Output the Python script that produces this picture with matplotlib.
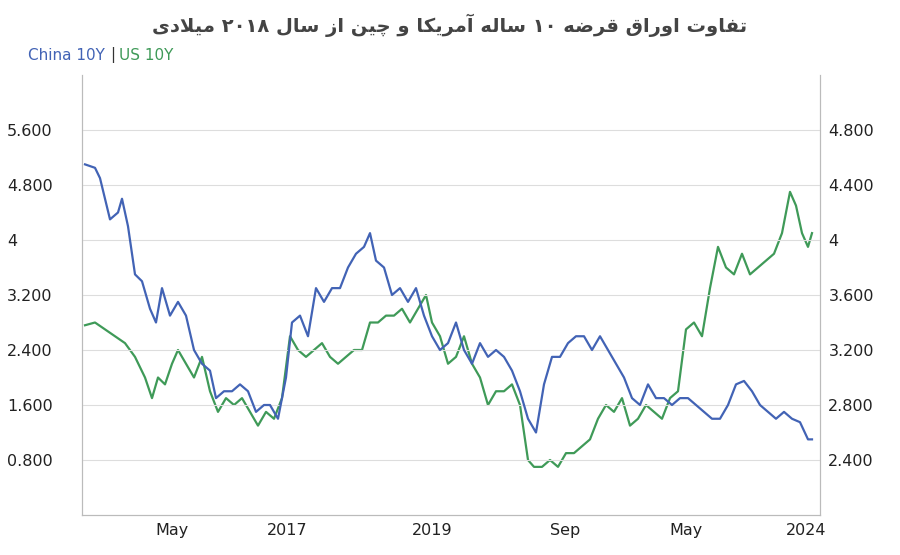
import re
import matplotlib
matplotlib.use("Agg")
import matplotlib.pyplot as plt

# --- minimal Persian shaping ---
FORMS = {
 'ا':('\uFE8D','\uFE8E',None,None),'آ':('\uFE81','\uFE82',None,None),
 'ت':('\uFE95','\uFE96','\uFE97','\uFE98'),'ف':('\uFED1','\uFED2','\uFED3','\uFED4'),
 'و':('\uFEED','\uFEEE',None,None),'ر':('\uFEAD','\uFEAE',None,None),
 'ق':('\uFED5','\uFED6','\uFED7','\uFED8'),'ض':('\uFEBD','\uFEBE','\uFEBF','\uFEC0'),
 'ه':('\uFEE9','\uFEEA','\uFEEB','\uFEEC'),'س':('\uFEB1','\uFEB2','\uFEB3','\uFEB4'),
 'ل':('\uFEDD','\uFEDE','\uFEDF','\uFEE0'),'م':('\uFEE1','\uFEE2','\uFEE3','\uFEE4'),
 'ن':('\uFEE5','\uFEE6','\uFEE7','\uFEE8'),'ز':('\uFEAF','\uFEB0',None,None),
 'د':('\uFEA9','\uFEAA',None,None),'ی':('\uFBFC','\uFBFD','\uFBFE','\uFBFF'),
 'ک':('\uFB8E','\uFB8F','\uFB90','\uFB91'),'چ':('\uFB7A','\uFB7B','\uFB7C','\uFB7D'),
}
def shape(s):
    s = s.replace('لا', '\uE000')
    out = []
    chars = list(s)
    def joins_next(c):
        if c == '\uE000': return False
        return c in FORMS and FORMS[c][2] is not None
    def is_letter(c):
        return c in FORMS or c == '\uE000'
    for i, c in enumerate(chars):
        prev = chars[i-1] if i > 0 else ''
        nxt = chars[i+1] if i+1 < len(chars) else ''
        jp = joins_next(prev)
        if c == '\uE000':
            out.append('\uFEFC' if jp else '\uFEFB'); continue
        if c not in FORMS:
            out.append(c); continue
        f = FORMS[c]
        jn = f[2] is not None and is_letter(nxt)
        if jp and jn: out.append(f[3])
        elif jp: out.append(f[1])
        elif jn: out.append(f[2])
        else: out.append(f[0])
    vis = ''.join(out)
    toks = re.split(r'([۰-۹0-9]+)', vis)
    toks = [t if re.fullmatch(r'[۰-۹0-9]+', t) else t[::-1] for t in toks]
    return ''.join(toks[::-1])

title = 'تفاوت اوراق قرضه ۱۰ ساله آمریکا و چین از سال ۲۰۱۸ میلادی'

# --- data (x in chart position units) ---
china_x = [85,95,100,110,118,122,128,135,142,150,156,162,170,178,186,194,202,210,216,224,232,240,248,256,264,270,278,286,292,300,308,316,324,332,340,348,356,364,370,376,384,392,400,408,416,424,432,440,448,456,464,472,480,488,496,504,512,520,528,536,544,552,560,568,576,584,592,600,608,616,624,632,640,648,656,664,672,680,688,696,704,712,720,728,736,744,752,760,768,776,784,792,800,808,812]
china_y = [5.1,5.05,4.9,4.3,4.4,4.6,4.2,3.5,3.4,3.0,2.8,3.3,2.9,3.1,2.9,2.4,2.2,2.1,1.7,1.8,1.8,1.9,1.8,1.5,1.6,1.6,1.4,2.0,2.8,2.9,2.6,3.3,3.1,3.3,3.3,3.6,3.8,3.9,4.1,3.7,3.6,3.2,3.3,3.1,3.3,2.9,2.6,2.4,2.5,2.8,2.4,2.2,2.5,2.3,2.4,2.3,2.1,1.8,1.4,1.2,1.9,2.3,2.3,2.5,2.6,2.6,2.4,2.6,2.4,2.2,2.0,1.7,1.6,1.9,1.7,1.7,1.6,1.7,1.7,1.6,1.5,1.4,1.4,1.6,1.9,1.95,1.8,1.6,1.5,1.4,1.5,1.4,1.35,1.1,1.1]
us_x = [85,95,105,115,125,135,145,152,158,165,172,178,186,194,202,210,218,226,234,242,250,258,266,274,282,290,298,306,314,322,330,338,346,354,362,370,378,386,394,402,410,418,426,432,440,448,456,464,472,480,488,496,504,512,520,528,534,542,550,558,566,574,582,590,598,606,614,622,630,638,646,654,662,670,678,686,694,702,710,718,726,734,742,750,758,766,774,782,790,796,802,808,812]
us_y = [3.38,3.4,3.35,3.3,3.25,3.15,3.0,2.85,3.0,2.95,3.1,3.2,3.1,3.0,3.15,2.9,2.75,2.85,2.8,2.85,2.75,2.65,2.75,2.7,2.85,3.3,3.2,3.15,3.2,3.25,3.15,3.1,3.15,3.2,3.2,3.4,3.4,3.45,3.45,3.5,3.4,3.5,3.6,3.4,3.3,3.1,3.15,3.3,3.1,3.0,2.8,2.9,2.9,2.95,2.8,2.4,2.35,2.35,2.4,2.35,2.45,2.45,2.5,2.55,2.7,2.8,2.75,2.85,2.65,2.7,2.8,2.75,2.7,2.85,2.9,3.35,3.4,3.3,3.65,3.95,3.8,3.75,3.9,3.75,3.8,3.85,3.9,4.05,4.35,4.25,4.05,3.95,4.05]
x_tick_pos = [172,287,432,565,686,806]
x_tick_labels = ['May','2017','2019','Sep','May','2024']
left_ticks = [0.8,1.6,2.4,3.2,4.0,4.8,5.6]
left_labels = ['0.800','1.600','2.400','3.200','4','4.800','5.600']
right_ticks = [2.4,2.8,3.2,3.6,4.0,4.4,4.8]
right_labels = ['2.400','2.800','3.200','3.600','4','4.400','4.800']

BLUE = '#4263b5'; GREEN = '#3f9a58'
fig = plt.figure(figsize=(9, 5.55), dpi=100)
ax = fig.add_axes([82/900, 40/555, 738/900, 440/555])
ax2 = ax.twinx()
ax.plot(china_x, china_y, color=BLUE, lw=1.6, zorder=3)
ax2.plot(us_x, us_y, color=GREEN, lw=1.6)
ax.set_zorder(ax2.get_zorder()+1); ax.patch.set_visible(False)
ax.set_xlim(82, 820)
ax.set_ylim(0, 6.4); ax2.set_ylim(2.0, 5.2)
ax.set_yticks(left_ticks, left_labels); ax2.set_yticks(right_ticks, right_labels)
ax.set_xticks(x_tick_pos, x_tick_labels)
ax.grid(axis='y', color='#dddddd', lw=0.8)
for a in (ax, ax2):
    a.spines['top'].set_visible(False)
    for s in ('left','right','bottom'):
        a.spines[s].set_color('#bbbbbb')
    a.tick_params(length=0, labelsize=11.5, colors='#222222', pad=6)
for t in ax.get_yticklabels(): t.set_ha('left')
ax.tick_params(axis='y', pad=54)
fig.text(0.5, 0.975, shape(title), ha='center', va='top', fontsize=14, fontweight='bold',
         color='#444444', family='DejaVu Sans')
fig.text(28/900, 1 - 55/555, 'China 10Y', color=BLUE, fontsize=11, va='center')
fig.text(110/900, 1 - 55/555, '|', color='#333333', fontsize=11, va='center')
fig.text(119/900, 1 - 55/555, 'US 10Y', color=GREEN, fontsize=11, va='center')
fig.savefig('out.png', dpi=100)
